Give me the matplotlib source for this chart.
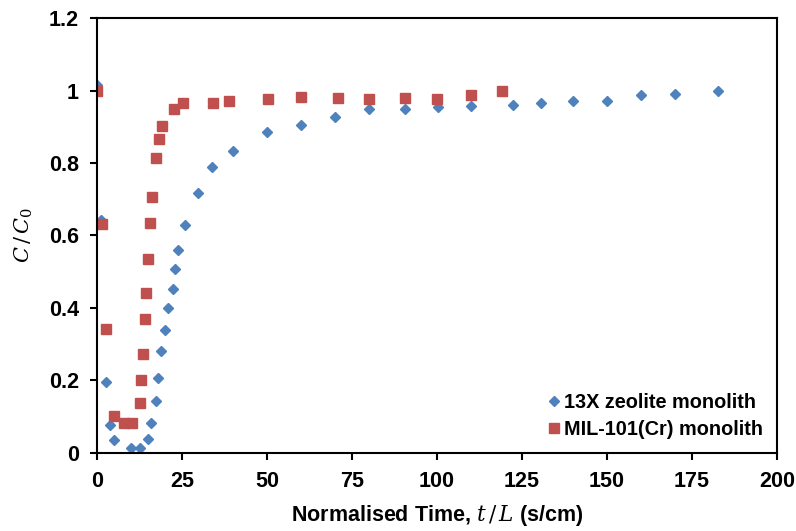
import matplotlib
matplotlib.use("Agg")
import matplotlib.pyplot as plt

plt.rcParams['font.family'] = ['Liberation Sans', 'DejaVu Sans']
plt.rcParams['mathtext.fontset'] = 'custom'
plt.rcParams['mathtext.it'] = 'DejaVu Serif:italic'
plt.rcParams['mathtext.rm'] = 'DejaVu Serif'

# 13X zeolite monolith
zeo_t = [0.0, 1.2, 2.5, 3.7, 5.0, 10.0, 12.5, 15.0, 15.9, 17.2, 18.0, 18.9, 20.1,
         21.0, 22.2, 23.0, 23.9, 26.0, 29.8, 33.7, 39.9, 50.0, 60.0, 70.0, 80.0,
         90.5, 100.4, 109.9, 122.5, 130.5, 140.0, 149.9, 159.9, 169.9, 182.6]
zeo_c = [1.015, 0.643, 0.195, 0.077, 0.036, 0.014, 0.014, 0.039, 0.083, 0.144,
         0.206, 0.280, 0.339, 0.399, 0.452, 0.507, 0.560, 0.630, 0.717, 0.788,
         0.833, 0.885, 0.905, 0.928, 0.950, 0.949, 0.954, 0.958, 0.961, 0.966,
         0.972, 0.972, 0.988, 0.990, 1.000]

# MIL-101(Cr) monolith
mil_t = [0.1, 1.4, 2.5, 5.1, 8.0, 10.2, 12.6, 13.0, 13.5, 14.1, 14.5, 15.1, 15.5,
         16.1, 17.2, 18.1, 19.2, 22.6, 25.2, 34.2, 38.9, 50.2, 60.0, 70.8, 80.1,
         90.7, 100.1, 109.9, 119.2]
mil_c = [1.000, 0.632, 0.342, 0.102, 0.082, 0.084, 0.139, 0.201, 0.273, 0.370,
         0.442, 0.535, 0.634, 0.705, 0.815, 0.867, 0.903, 0.948, 0.965, 0.966,
         0.971, 0.977, 0.981, 0.979, 0.977, 0.979, 0.977, 0.988, 1.000]

x_ticks = [0, 25, 50, 75, 100, 125, 150, 175, 200]
y_ticks = [0, 0.2, 0.4, 0.6, 0.8, 1.0, 1.2]
y_labels = ['0', '0.2', '0.4', '0.6', '0.8', '1', '1.2']

fig = plt.figure(figsize=(7.96, 5.31), dpi=100)
ax = fig.add_axes([0.122, 0.147, 0.854, 0.819])

ax.plot(zeo_t, zeo_c, linestyle='none', marker='D', ms=5.5, color='#4F81BD',
        mec='#4F81BD', label='13X zeolite monolith')
ax.plot(mil_t, mil_c, linestyle='none', marker='s', ms=7, color='#C0504D',
        mec='#C0504D', label='MIL-101(Cr) monolith')

ax.set_xlim(0, 200)
ax.set_ylim(0, 1.2)
ax.set_xticks(x_ticks)
ax.set_yticks(y_ticks)
ax.set_yticklabels(y_labels)
ax.tick_params(direction='out', length=5, width=1.5, labelsize=15.5, pad=8)
for lbl in ax.get_xticklabels() + ax.get_yticklabels():
    lbl.set_fontweight('bold')
for sp in ax.spines.values():
    sp.set_linewidth(1.5)

ax.set_xlabel(r'Normalised Time, $t\,/\,L$ (s/cm)', fontsize=15.5, fontweight='bold', labelpad=8)
ax.set_ylabel(r'$C\,/\,C_0$', fontsize=15, labelpad=10)

leg = ax.legend(loc='lower right', frameon=False, fontsize=14.3, handletextpad=0.0,
                handlelength=1.0, borderaxespad=0.3, labelspacing=0.4,
                bbox_to_anchor=(1.0, 0.0))
for t in leg.get_texts():
    t.set_fontweight('bold')

fig.savefig('out.png', dpi=100)
